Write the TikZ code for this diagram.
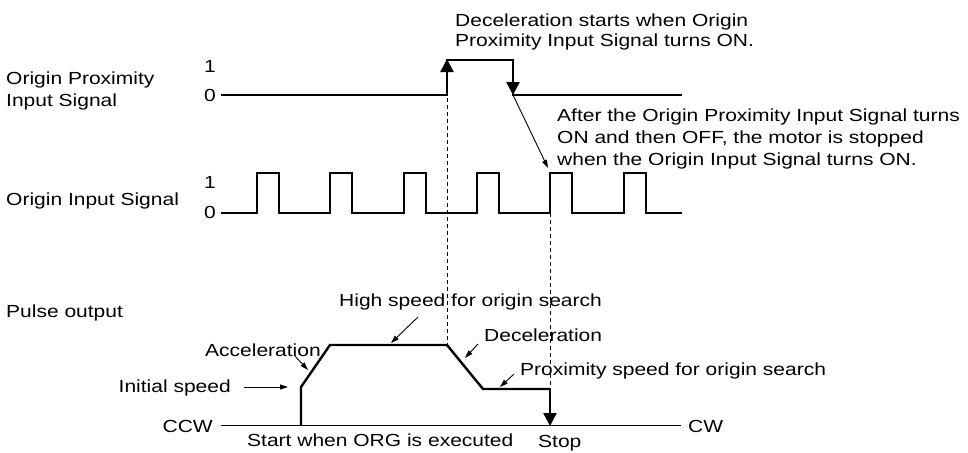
\documentclass[tikz,border=0pt]{standalone}
\usepackage{fontspec}
\setmainfont{Liberation Sans}[FakeStretch=1.2]
\usetikzlibrary{arrows.meta}

\begin{document}
\begin{tikzpicture}[x=1pt,y=-1pt,
  sig/.style={line width=2.4pt, line join=miter},
  axis/.style={line width=1.5pt},
  guide/.style={line width=0.9pt, dash pattern=on 4pt off 3pt},
  note/.style={line width=0.9pt, -{Triangle[length=8pt,width=5pt]}},
  bigtip/.style={-{Triangle[length=13pt,width=13pt]}},
  lbl/.style={inner sep=0pt, font=\fontsize{17.5}{21}\selectfont, anchor=base west, align=left}]
  \useasboundingbox (0,0) rectangle (968,452);
  % labels on the left
  \node[lbl] (lprox) at (6,106) {Origin Proximity\\Input Signal};
  \node[lbl] (lorg) at (6,205.5) {Origin Input Signal};
  \node[lbl] (lpulse) at (6,317) {Pulse output};
  \node[lbl, anchor=base] (p1) at (210,72) {1};
  \node[lbl, anchor=base] (p0) at (210,101) {0};
  \node[lbl, anchor=base] (o1) at (210,188) {1};
  \node[lbl, anchor=base] (o0) at (210,218) {0};
  % origin proximity input signal
  \coordinate (prise) at (447,95);
  \coordinate (pfall) at (513,95);
  \draw[sig] (221,95) -- (prise) -- (447,60) -- (513,60) -- (pfall) -- (682,95);
  \draw[sig, bigtip] (447,80) -- (447,59);
  \draw[sig, bigtip] (513,75) -- (pfall);
  % origin input signal
  \draw[sig] (221,213) foreach \x in {257,330,404,477,550,624} {
      -- (\x,213) -- (\x,173) -- ({\x+22},173) -- ({\x+22},213)} -- (682,213);
  \coordinate (ostop) at (550,213);
  % pulse output
  \coordinate (ini) at (301,387);
  \coordinate (hs1) at (330,345);
  \coordinate (hs2) at (447,345);
  \coordinate (ps1) at (483,389);
  \coordinate (ps2) at (550,389);
  \draw[axis] (221,425.5) -- (681,425.5);
  \draw[sig] (301,425.5) -- (ini) -- (hs1) -- (hs2) -- (ps1) -- (ps2);
  \draw[sig, bigtip] (ps2) -- (550,426);
  % guide lines
  \draw[guide] (prise) ++(0,3) -- (hs2);
  \draw[guide] (ostop) -- (ps2);
  % texts
  \node[lbl, font=\fontsize{17.5}{20}\selectfont] (tdec) at (455,46) {Deceleration starts when Origin\\Proximity Input Signal turns ON.};
  \node[lbl, font=\fontsize{17.5}{22}\selectfont] (tafter) at (557,165) {After the Origin Proximity Input Signal turns\\ON and then OFF, the motor is stopped\\when the Origin Input Signal turns ON.};
  \node[lbl] (lhigh) at (339,306.7) {High speed for origin search};
  \node[lbl] (lacc) at (205,356) {Acceleration};
  \node[lbl] (ldec) at (484,341) {Deceleration};
  \node[lbl, anchor=base east] (lini) at (231,392) {Initial speed};
  \node[lbl] (lprx) at (520,375) {Proximity speed for origin search};
  \node[lbl, anchor=base east] (lccw) at (213,432) {CCW};
  \node[lbl] (lcw) at (688,432) {CW};
  \node[lbl] (lstart) at (247,446) {Start when ORG is executed};
  \node[lbl] (lstop) at (538,447) {Stop};
  % pointers
  \coordinate (aini) at (244,387);
  \coordinate (aacc) at (295,356);
  \coordinate (ahigh) at (418,317);
  \coordinate (adec) at (478,344);
  \coordinate (aprx) at (514,374);
  \draw[note] (aini) -- (288,387);
  \draw[note] (aacc) -- (308,370);
  \draw[note] (ahigh) -- (391,343);
  \draw[note] (adec) -- (465,358);
  \draw[note] (aprx) -- (500,387);
  \draw[note] (pfall) -- (548,168);
\end{tikzpicture}
\end{document}
